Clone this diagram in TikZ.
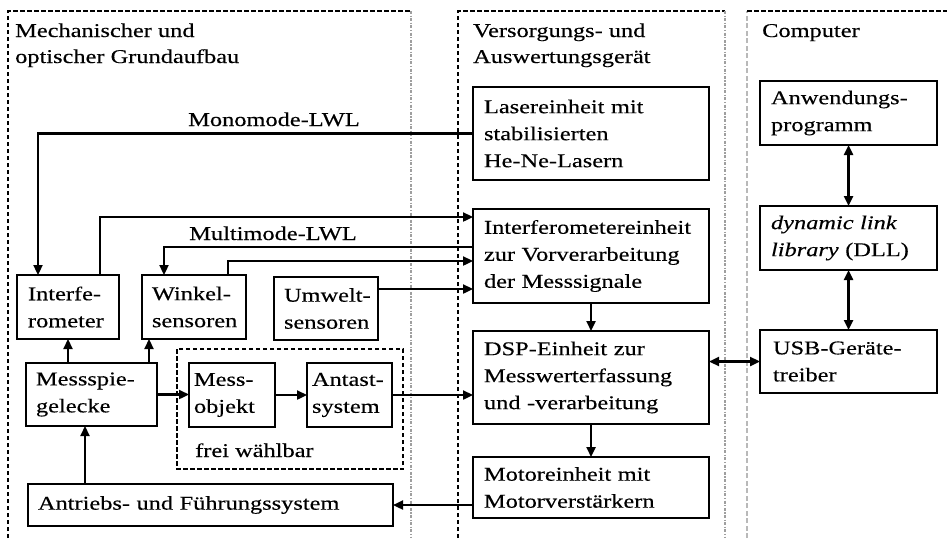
\documentclass[tikz,border=0pt]{standalone}
\usepackage{fontspec}
\setmainfont[FakeStretch=1.25,FakeBold=0.3]{Liberation Serif}
\usetikzlibrary{arrows.meta}
\newcommand\myfs{\fontsize{19.5}{27}\selectfont}
\newcommand\myln[1]{\mbox{#1}}
\begin{document}
\begin{tikzpicture}[x=1pt,y=-1pt,
  box/.style={draw, line width=2.7pt, align=left, inner xsep=11pt, inner ysep=0pt,
    outer sep=0pt, font=\myfs, anchor=north west},
  smallbox/.style={box, inner xsep=5pt},
  tip/.tip={Triangle[length=10pt,width=9pt]},
  conn/.style={line width=2.3pt, -tip},
  dconn/.style={line width=2.3pt, tip-tip},
  frameblack/.style={line width=2pt, dash pattern=on 4.5pt off 2.5pt},
  framegray/.style={line width=2pt, gray!75, dash pattern=on 3pt off 1.5pt on 1.2pt off 1.5pt},
  framelight/.style={line width=1.8pt, gray!55, dash pattern=on 5pt off 2.5pt},
  lbl/.style={font=\myfs, inner sep=0pt, anchor=base west},
  clbl/.style={font=\myfs, inner sep=0pt, anchor=base}]
\useasboundingbox (0,0) rectangle (947,538);
\fill[white] (0,0) rectangle (947,538);

% frames
\draw[frameblack] (8,538) -- (8,11) -- (411,11);
\draw[framegray] (411,11) -- (411,538);
\draw[frameblack] (458,538) -- (458,11) -- (725,11);
\draw[framegray] (725,11) -- (725,538);
\draw[framelight] (747,538) -- (747,11);
\draw[frameblack] (747,11) -- (947,11);

% titles
\node[lbl] (t1a) at (15,37) {Mechanischer und};
\node[lbl] (t1b) at (15,63) {optischer Grundaufbau};
\node[lbl] (t2a) at (473,37) {Versorgungs- und};
\node[lbl] (t2b) at (473,63) {Auswertungsgerät};
\node[lbl] (t3) at (762,37) {Computer};

% left group
\node[box, minimum width=102pt, minimum height=64pt, text width=80pt, inner xsep=11pt] (interf) at (17,275) {\myln{Interfe-}\\\myln{rometer}};
\node[box, minimum width=104pt, minimum height=64pt, text width=84pt, inner xsep=10pt] (winkel) at (142,275) {\myln{Winkel-}\\\myln{sensoren}};
\node[box, minimum width=104pt, minimum height=63pt, text width=84pt, inner xsep=10pt] (umwelt) at (274,277) {\myln{Umwelt-}\\\myln{sensoren}};
\node[box, minimum width=131pt, minimum height=63pt, text width=111pt, inner xsep=10pt] (mspieg) at (26,363) {\myln{Messspie-}\\\myln{gelecke}};
\draw[frameblack] (177,349) rectangle (403,469);
\node[smallbox, minimum width=86pt, minimum height=64pt, text width=76pt] (mobj) at (189,363) {\myln{Mess-}\\\myln{objekt}};
\node[smallbox, minimum width=85pt, minimum height=64pt, text width=75pt] (antast) at (307,363) {\myln{Antast-}\\\myln{system}};
\node[lbl] (frei) at (195,457) {frei wählbar};
\node[box, minimum width=365pt, minimum height=42pt, text width=345pt, inner xsep=10pt] (antr) at (28,484) {\myln{Antriebs- und Führungssystem}};

% middle group
\node[box, minimum width=236pt, minimum height=93pt, text width=214pt] (laser) at (473,87) {\myln{Lasereinheit mit}\\\myln{stabilisierten}\\\myln{He-Ne-Lasern}};
\node[box, minimum width=236pt, minimum height=94pt, text width=214pt] (ife) at (473,209) {\myln{Interferometereinheit}\\\myln{zur Vorverarbeitung}\\\myln{der Messsignale}};
\node[box, minimum width=236pt, minimum height=93pt, text width=214pt] (dsp) at (473,331) {\myln{DSP-Einheit zur}\\\myln{Messwerterfassung}\\\myln{und -verarbeitung}};
\node[box, minimum width=236pt, minimum height=61pt, text width=214pt] (motor) at (473,457) {\myln{Motoreinheit mit}\\\myln{Motorverstärkern}};

% computer group
\node[box, minimum width=177pt, minimum height=64pt, text width=155pt] (anw) at (760,81) {\myln{Anwendungs-}\\\myln{programm}};
\node[box, minimum width=177pt, minimum height=64pt, text width=155pt] (dll) at (760,206) {\myln{\textit{dynamic link}}\\\myln{\textit{library} (DLL)}};
\node[box, minimum width=177pt, minimum height=63pt, text width=151pt, inner xsep=13pt] (usb) at (760,330) {\myln{USB-Geräte-}\\\myln{treiber}};

% connectors
\draw[conn] (laser.west) -| ([xshift=21pt]interf.north west);
\node[clbl] (mono) at (274,126) {Monomode-LWL};
\draw[conn] ([xshift=83pt]interf.north west) |- ([yshift=-8pt]ife.north west);
\node[clbl] (multi) at (273,240) {Multimode-LWL};
\draw[conn] ([yshift=-38pt]ife.north west) -| ([xshift=22pt]winkel.north west);
\draw[conn] ([xshift=86pt]winkel.north west) |- ([yshift=-52pt]ife.north west);
\draw[conn] ([yshift=-12pt]umwelt.north east) -- ([yshift=-12pt]umwelt.north east -| ife.west);
\draw[conn] ([xshift=42pt]mspieg.north west) -- ([xshift=42pt]mspieg.north west |- interf.south);
\draw[conn] ([xshift=123pt]mspieg.north west) -- ([xshift=123pt]mspieg.north west |- winkel.south);
\draw[conn] (mspieg.east) -- (mspieg.east -| mobj.west);
\draw[conn] (mobj.east) -- (antast.west);
\draw[conn] (antast.east) -- (antast.east -| dsp.west);
\draw[conn] ([xshift=57pt]antr.north west) -- ([xshift=57pt]antr.north west |- mspieg.south);
\draw[conn] (motor.west |- antr.east) -- (antr.east);
\draw[conn] (ife.south) -- (dsp.north);
\draw[conn] (dsp.south) -- (motor.north);
\draw[dconn] (usb.west -| dsp.east) -- (usb.west);
\draw[dconn] (anw.south) -- (dll.north);
\draw[dconn] (dll.south) -- (usb.north);
\end{tikzpicture}
\end{document}
